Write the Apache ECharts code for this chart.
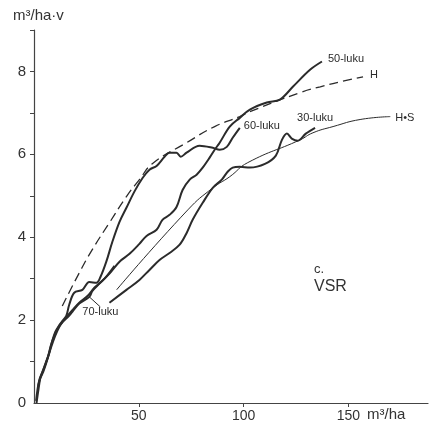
<!DOCTYPE html>
<html>
<head>
<meta charset="utf-8">
<script src="https://cdn.jsdelivr.net/npm/echarts@6/dist/echarts.min.js"></script>
<style>
  html, body { margin: 0; padding: 0; background: #fff; }
  #chart { width: 430px; height: 423px; }
</style>
</head>
<body>
<div id="chart"></div>
<script>
// x: m3/ha, y: m3/ha·v
const luku30 = [[36.0, 2.42], [44.1, 2.73], [50.3, 2.97], [55.1, 3.21], [59.9, 3.45], [64.7, 3.62],
  [69.5, 3.82], [72.9, 4.11], [75.7, 4.42], [80.5, 4.83], [85.3, 5.19], [89.6, 5.39], [92.4, 5.58],
  [94.8, 5.68], [98.2, 5.70], [103.0, 5.68], [110.2, 5.77], [115.4, 5.97], [118.3, 6.35],
  [120.7, 6.50], [123.0, 6.38], [125.9, 6.33], [129.7, 6.50], [134.1, 6.64]];

const luku50 = [[2.0, 0.41], [3.0, 0.60], [4.4, 0.75], [6.3, 1.04], [8.2, 1.35], [10.1, 1.62],
  [12.1, 1.84], [14.0, 1.98], [15.9, 2.10], [18.3, 2.24], [21.6, 2.42], [25.5, 2.58], [28.8, 2.78],
  [32.2, 2.93], [36.0, 3.12], [40.8, 3.41], [45.6, 3.60], [50.3, 3.84], [53.7, 4.03], [58.5, 4.18],
  [61.3, 4.42], [64.7, 4.54], [68.0, 4.73], [70.9, 5.14], [74.3, 5.39], [77.6, 5.51], [80.5, 5.68],
  [83.8, 5.92], [86.2, 6.11], [88.6, 6.28], [93.4, 6.67], [98.2, 6.88], [103.0, 7.08], [111.1, 7.25],
  [117.3, 7.32], [123.5, 7.63], [131.7, 8.04], [137.4, 8.24]];

const luku60 = [[1.0, 0.05], [1.6, 0.30], [2.5, 0.55], [3.8, 0.72], [5.6, 0.97], [7.3, 1.22],
  [8.6, 1.48], [10.2, 1.72], [12.1, 1.88], [13.6, 1.98], [15.4, 2.10], [16.8, 2.37], [19.2, 2.66],
  [23.1, 2.73], [26.4, 2.92], [29.8, 2.90], [31.7, 3.04], [34.5, 3.41], [37.4, 3.89], [40.8, 4.37],
  [44.1, 4.71], [47.9, 5.10], [51.8, 5.43], [55.1, 5.63], [58.5, 5.72], [62.3, 5.94], [64.7, 6.04],
  [68.0, 6.04], [70.0, 5.94], [72.8, 6.04], [79.0, 6.21], [85.3, 6.16], [88.6, 6.11], [92.0, 6.18],
  [94.8, 6.40], [98.2, 6.64]];

const luku70 = [[1.2, 0.00], [2.2, 0.35], [3.1, 0.62], [4.6, 0.82], [6.6, 1.10], [8.0, 1.38],
  [9.7, 1.62], [11.6, 1.82], [13.2, 1.93], [15.9, 2.06], [18.3, 2.20], [21.6, 2.40], [26.4, 2.56],
  [27.8, 2.70], [31.2, 2.88], [34.5, 3.05], [38.4, 3.31]];

const curveH = [[13.5, 2.34], [21.6, 3.14], [27.8, 3.70], [36.0, 4.35], [44.1, 4.98], [50.3, 5.39],
  [56.6, 5.78], [72.8, 6.28], [86.2, 6.67], [98.2, 6.91], [103.0, 7.03], [127.0, 7.49],
  [136.6, 7.63], [146.0, 7.75], [157.0, 7.87]];

const curveHS = [[39.4, 2.73], [73.4, 4.66], [85.3, 5.19], [93.4, 5.46], [102.0, 5.80],
  [127.0, 6.35], [133.1, 6.52], [142.7, 6.67], [155.6, 6.84], [170.0, 6.91]];

const yTicks = [1, 2, 3, 4, 5, 6, 7, 8, 9];
const yLabels = [0, 2, 4, 6, 8];
const xLabels = [50, 100, 150];

const ink = '#2b2b2b';
const font = '"Liberation Sans", Arial, sans-serif';
const chart = echarts.init(document.getElementById('chart'));

function endLabel(text, offset) {
  return {
    show: true,
    formatter: text,
    fontFamily: font,
    fontSize: 11,
    color: ink,
    distance: 5,
    offset: offset
  };
}

function curve(name, data, width, extra) {
  return Object.assign({
    name: name,
    type: 'line',
    data: data,
    showSymbol: false,
    smooth: 0.35,
    silent: true,
    lineStyle: { color: ink, width: width }
  }, extra || {});
}

// 70-luku gets its label with a short leader line below the curve
const luku70Data = luku70.map((p, i) => i === 12 ? {
  value: p,
  label: {
    show: true,
    formatter: '70-luku',
    position: 'bottom',
    distance: 2,
    fontFamily: font,
    fontSize: 11,
    color: ink
  }
} : p);

const option = {
  animation: false,
  backgroundColor: '#ffffff',
  grid: { left: 34, right: 2, top: 30, bottom: 20 },
  xAxis: {
    type: 'value',
    min: 0,
    max: 188,
    interval: 50,
    splitLine: { show: false },
    axisLine: { lineStyle: { color: '#444', width: 1.2 } },
    axisTick: { show: true, length: 4, customValues: xLabels, lineStyle: { color: '#444' } },
    axisLabel: {
      customValues: xLabels,
      margin: 6,
      fontFamily: font,
      fontSize: 14,
      color: '#333'
    }
  },
  yAxis: {
    type: 'value',
    min: 0,
    max: 9,
    interval: 1,
    splitLine: { show: false },
    axisLine: { show: true, lineStyle: { color: '#444', width: 1.2 } },
    axisTick: { show: true, length: 4, customValues: yTicks, lineStyle: { color: '#444' } },
    axisLabel: {
      customValues: yLabels,
      margin: 8,
      fontFamily: font,
      fontSize: 15,
      color: '#333'
    }
  },
  graphic: [
    { type: 'text', left: 13, top: 8, style: { text: 'm³/ha·v', fontFamily: font, fontSize: 15, fill: '#333' } },
    { type: 'text', left: 367, top: 407, style: { text: 'm³/ha', fontFamily: font, fontSize: 15, fill: '#333' } },
    { type: 'text', left: 314, top: 263, style: { text: 'c.', fontFamily: font, fontSize: 13, fill: '#333' } },
    { type: 'text', left: 314, top: 279, style: { text: 'VSR', fontFamily: font, fontSize: 16, fill: '#333' } }
  ],
  series: [
    curve('H', curveH, 1.3, {
      smooth: true,
      lineStyle: { color: ink, width: 1.3, type: [9, 5] },
      endLabel: endLabel('H', [2, -2])
    }),
    curve('H•S', curveHS, 1, {
      smooth: true,
      endLabel: endLabel('H•S', [0, 1])
    }),
    curve('30-luku', luku30, 2, { endLabel: endLabel('30-luku', [-23, -10]) }),
    curve('50-luku', luku50, 2, { endLabel: endLabel('50-luku', [1, -3]) }),
    curve('60-luku', luku60, 2, { endLabel: endLabel('60-luku', [-1, -2]) }),
    curve('70-luku', luku70Data, 2, {
      showSymbol: true,
      symbol: 'circle',
      symbolSize: 0,
      labelLayout: { dx: 11, dy: 8 },
      labelLine: { show: true, lineStyle: { color: ink, width: 1 } }
    })
  ]
};

chart.setOption(option);
</script>
</body>
</html>
